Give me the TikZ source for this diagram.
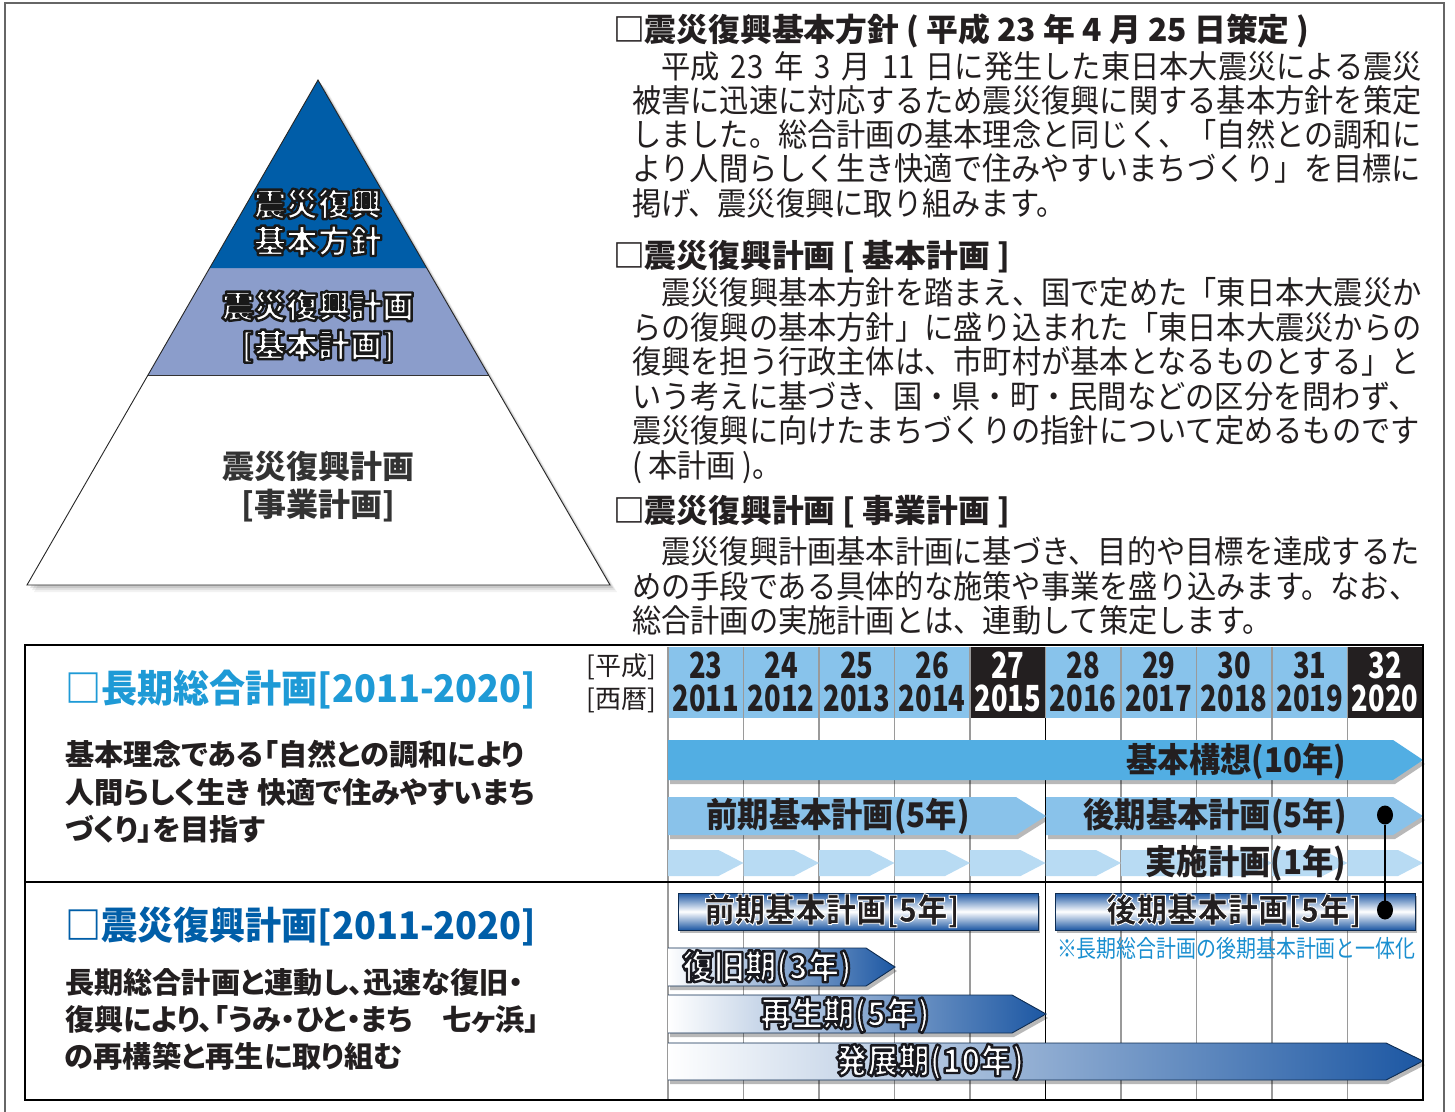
\documentclass[tikz,border=0pt]{standalone}
\usepackage{fontspec}
\usetikzlibrary{shapes.geometric}
\setmainfont{Noto Sans CJK JP}
\newfontfamily\jpr{Noto Sans CJK JP}
\newfontfamily\jpbody[FakeStretch=0.914]{Noto Sans CJK JP}
\newfontfamily\jpbar[FakeStretch=0.92]{Noto Sans CJK JP}
\newfontfamily\jpdig[FakeStretch=0.76]{Noto Sans CJK JP}
\newfontfamily\jppal[RawFeature=+palt]{Noto Sans CJK JP}
\newfontfamily\jptitle[FakeStretch=0.95]{Noto Sans CJK JP}
\newfontfamily\jpnote[FakeStretch=0.83]{Noto Sans CJK JP}
\newcommand\fsz[1]{\fontsize{#1}{#1}\selectfont}
% outlined text: #1 stroke rgb, #2 stroke width, #3 text
\newcommand\outl[3]{\special{pdf:literal direct #1 RG #2 w 1 j 2 Tr}#3\special{pdf:literal direct 0 Tr}}
\definecolor{ink}{HTML}{231F20}
\definecolor{pyrtop}{HTML}{005DA8}
\definecolor{pyrmid}{HTML}{8B9DCB}
\definecolor{hdr}{HTML}{88C3EB}
\definecolor{cellk}{HTML}{231F20}
\definecolor{barmain}{HTML}{52AEE3}
\definecolor{barmid}{HTML}{89C2EA}
\definecolor{barlight}{HTML}{B8DBF3}
\definecolor{titleA}{HTML}{1E9AD6}
\definecolor{titleB}{HTML}{005EA8}
\definecolor{gradblue}{HTML}{1C57A3}
\definecolor{notecol}{HTML}{1A8FD0}
\definecolor{gridc}{HTML}{9A9A9A}
\begin{document}
\begin{tikzpicture}[x=1pt,y=-1pt,
  every node/.style={inner sep=0pt, outer sep=0pt},
  bodytxt/.style={font=\jpbody\fsz{32}, text=ink, anchor=base west},
  headtxt/.style={font=\jpr\bfseries\fsz{31.8}, text=ink, anchor=base west},
  pyrtxt/.style={font=\jpr\bfseries\fsz{32}, anchor=base},
  bartxt/.style={font=\jpbar\bfseries\fsz{34}, text=ink},
  yeartxt/.style={font=\jpdig\bfseries\fsz{36}, anchor=base},
  lefttxt/.style={font=\jppal\bfseries\fsz{29.2}, text=ink, anchor=base west},
  titletxt/.style={font=\jptitle\bfseries\fsz{38}, anchor=base west},
  gridline/.style={draw=gridc, line width=1.2},
  shadowfill/.style={fill=black, opacity=0.28},
  barborder/.style={draw=gradblue!50!black, line width=0.9}]
\useasboundingbox (0,0) rectangle (1455,1111);
\fill[white] (0,0) rectangle (1455,1111);
% outer frame
\draw[black!60, line width=2] (5,1115) -- (5,3) -- (1444,3) -- (1444,1115);

% ---------------- pyramid
\foreach \s/\o in {7/0.05,5/0.07,3/0.1}{%
  \fill[black, opacity=\o, shift={(\s,\s)}] (318,80) -- (610,585) -- (27,585) -- cycle;}
\fill[white] (147.9,375) -- (488.6,375) -- (610,585) -- (27,585) -- cycle;
\fill[pyrmid] (209.7,268) -- (426.7,268) -- (488.6,375) -- (147.9,375) -- cycle;
\fill[pyrtop] (318,80) -- (426.7,268) -- (209.7,268) -- cycle;
\draw[black!80, line width=0.8] (147.9,375) -- (488.6,375);
\draw[black!85, line width=0.9] (318,80) -- (610,585) -- (27,585) -- cycle;
\node[pyrtxt, text=white] (py1) at (318,216) {\outl{0.1 0.1 0.1}{2.4}{震災復興}};
\node[pyrtxt, text=white] (py2) at (318,253) {\outl{0.1 0.1 0.1}{2.4}{基本方針}};
\node[pyrtxt, text=white] (py3) at (318,318) {\outl{0.1 0.1 0.1}{2.4}{震災復興計画}};
\node[pyrtxt, text=white] (py4) at (318,357) {\outl{0.1 0.1 0.1}{2.4}{[基本計画]}};
\node[pyrtxt, text=black!80] (py5) at (318,478) {震災復興計画};
\node[pyrtxt, text=black!80] (py6) at (318,516) {[事業計画]};

% ---------------- right column text
\node[headtxt] (h1) at (613,41) {□震災復興基本方針 ( 平成 23 年 4 月 25 日策定 )};
\node[bodytxt] (p1a) at (632,78) {\makebox[790pt][s]{　平成 23 年 3 月 11 日に発生した東日本大震災による震災}};
\node[bodytxt] (p1b) at (632,112) {被害に迅速に対応するため震災復興に関する基本方針を策定};
\node[bodytxt] (p1c) at (632,146) {しました。総合計画の基本理念と同じく、「自然との調和に};
\node[bodytxt] (p1d) at (632,180) {より人間らしく生き快適で住みやすいまちづくり」を目標に};
\node[bodytxt] (p1e) at (632,215) {掲げ、震災復興に取り組みます。};

\node[headtxt] (h2) at (613,267) {□震災復興計画 [ 基本計画 ]};
\node[bodytxt] (p2a) at (632,304) {　震災復興基本方針を踏まえ、国で定めた「東日本大震災か};
\node[bodytxt] (p2b) at (632,339) {らの復興の基本方針」に盛り込まれた「東日本大震災からの};
\node[bodytxt] (p2c) at (632,373) {復興を担う行政主体は、市町村が基本となるものとする」と};
\node[bodytxt] (p2d) at (632,408) {いう考えに基づき、国・県・町・民間などの区分を問わず、};
\node[bodytxt] (p2e) at (632,442) {震災復興に向けたまちづくりの指針について定めるものです};
\node[bodytxt] (p2f) at (632,477) {( 本計画 )。};

\node[headtxt] (h3) at (613,522) {□震災復興計画 [ 事業計画 ]};
\node[bodytxt] (p3a) at (632,563) {　震災復興計画基本計画に基づき、目的や目標を達成するた};
\node[bodytxt] (p3b) at (632,598) {めの手段である具体的な施策や事業を盛り込みます。なお、};
\node[bodytxt] (p3c) at (632,632) {総合計画の実施計画とは、連動して策定します。};

% ---------------- timeline header
\foreach \i/\a/\b/\cf/\ct in {0/23/2011/hdr/ink,1/24/2012/hdr/ink,2/25/2013/hdr/ink,3/26/2014/hdr/ink,4/27/2015/cellk/white,5/28/2016/hdr/ink,6/29/2017/hdr/ink,7/30/2018/hdr/ink,8/31/2019/hdr/ink,9/32/2020/cellk/white}{%
  \fill[\cf] ({668+75.5*\i},647) rectangle ({668+75.5*(\i+1)},718);
  \node[yeartxt, text=\ct] (ya\i) at ({668+75.5*\i+37.75},678) {\a};
  \node[yeartxt, text=\ct] (yb\i) at ({668+75.5*\i+37.75},711) {\b};}
\foreach \i in {0,...,9}{\draw[gridline] ({668+75.5*\i},647) -- ({668+75.5*\i},1100);}
\draw[black, line width=1.3] (1045.5,718) -- (1045.5,1100);

\node[font=\jpr\fsz{26}, text=ink, anchor=base east] (hs) at (656,675) {[平成]};
\node[font=\jpr\fsz{26}, text=ink, anchor=base east] (ss) at (656,708) {[西暦]};

% ---------------- upper bars
\fill[shadowfill, shift={(2,4)}] (668,740) -- (1393,740) -- (1423,760) -- (1393,780) -- (668,780) -- cycle;
\fill[barmain] (668,740) -- (1393,740) -- (1423,760) -- (1393,780) -- (668,780) -- cycle;
\fill[shadowfill, shift={(2,4)}] (668,797) -- (1016,797) -- (1046,816) -- (1016,835) -- (668,835) -- cycle;
\fill[barmid] (668,797) -- (1016,797) -- (1046,816) -- (1016,835) -- (668,835) -- cycle;
\fill[shadowfill, shift={(2,4)}] (1046,797) -- (1393,797) -- (1423,816) -- (1393,835) -- (1046,835) -- cycle;
\fill[barmid] (1046,797) -- (1393,797) -- (1423,816) -- (1393,835) -- (1046,835) -- cycle;
\foreach \i in {0,...,9}{%
  \fill[barlight] ({668+75.5*\i},850) -- ({668+75.5*(\i+1)-25},850) -- ({668+75.5*(\i+1)},863) -- ({668+75.5*(\i+1)-25},876) -- ({668+75.5*\i},876) -- cycle;}
\node[bartxt, anchor=base east] (kk) at (1346,772) {基本構想(10年)};
\node[bartxt, anchor=base] (zk) at (838,827) {前期基本計画(5年)};
\node[bartxt, anchor=base] (kkk) at (1215,827) {後期基本計画(5年)};
\node[bartxt, anchor=base east] (js) at (1346,874) {実施計画(1年)};

% ---------------- lower bars
\fill[shadowfill, shift={(2,3)}] (678,893) rectangle (1038,930);
\shade[top color=gradblue, bottom color=gradblue, middle color=white] (678,893) rectangle (1038,930);
\draw[barborder] (678,893) rectangle (1038,930);
\fill[shadowfill, shift={(2,3)}] (1055,893) rectangle (1415,930);
\shade[top color=gradblue, bottom color=gradblue, middle color=white] (1055,893) rectangle (1415,930);
\draw[barborder] (1055,893) rectangle (1415,930);
\node[bartxt, anchor=base, font=\jpbar\bfseries\fsz{33}] (zb) at (832,922) {\outl{1 1 1}{0.9}{前期基本計画[5年]}};
\node[bartxt, anchor=base, font=\jpbar\bfseries\fsz{33}] (kb) at (1234,922) {\outl{1 1 1}{0.9}{後期基本計画[5年]}};
\node[font=\jpnote\fsz{24}, text=notecol, anchor=base west] (note) at (1057,957) {※長期総合計画の後期基本計画と一体化};

\fill[shadowfill, shift={(2,4)}] (668,948) -- (866,948) -- (895,967) -- (866,986) -- (668,986) -- cycle;
\shade[left color=white, right color=gradblue] (668,948) -- (866,948) -- (895,967) -- (866,986) -- (668,986) -- cycle;
\draw[barborder] (668,948) -- (866,948) -- (895,967) -- (866,986) -- (668,986);
\fill[shadowfill, shift={(2,4)}] (668,995) -- (1012,995) -- (1046,1014) -- (1012,1033) -- (668,1033) -- cycle;
\shade[left color=white, right color=gradblue] (668,995) -- (1012,995) -- (1046,1014) -- (1012,1033) -- (668,1033) -- cycle;
\draw[barborder] (668,995) -- (1012,995) -- (1046,1014) -- (1012,1033) -- (668,1033);
\fill[shadowfill, shift={(2,4)}] (668,1043) -- (1386,1043) -- (1423,1061) -- (1386,1080) -- (668,1080) -- cycle;
\shade[left color=white, right color=gradblue] (668,1043) -- (1386,1043) -- (1423,1061) -- (1386,1080) -- (668,1080) -- cycle;
\draw[barborder] (668,1043) -- (1386,1043) -- (1423,1061) -- (1386,1080) -- (668,1080);
\node[bartxt, anchor=base, text=white] (fk) at (767,979) {\outl{0.1 0.1 0.12}{2.4}{復旧期(3年)}};
\node[bartxt, anchor=base, text=white] (sk) at (845,1026) {\outl{0.1 0.1 0.12}{2.4}{再生期(5年)}};
\node[bartxt, anchor=base, text=white] (hk) at (930,1073) {\outl{0.1 0.1 0.12}{2.4}{発展期(10年)}};

% dots
\node[ellipse, fill=black, minimum width=16, minimum height=19] (d1) at (1385,815) {};
\node[ellipse, fill=black, minimum width=16, minimum height=19] (d2) at (1385,910) {};
\draw[black, line width=1.4] (d1) -- (d2);

% ---------------- timeline box and left column
\draw[black, line width=1.3] (25,645) rectangle (1423,1100);
\draw[black, line width=1.3] (25,882) -- (1423,882);
\node[titletxt, text=titleA] (t1) at (65,702) {□長期総合計画[2011-2020]};
\node[lefttxt] (l1a) at (65,765) {基本理念である「自然との調和により};
\node[lefttxt] (l1b) at (65,803) {人間らしく生き 快適で住みやすいまち};
\node[lefttxt] (l1c) at (65,840) {づくり」を目指す};
\node[titletxt, text=titleB] (t2) at (65,939) {□震災復興計画[2011-2020]};
\node[lefttxt] (l2a) at (65,993) {長期総合計画と連動し、迅速な復旧・};
\node[lefttxt] (l2b) at (65,1030) {復興により、「うみ・ひと・まち　七ヶ浜」};
\node[lefttxt] (l2c) at (65,1067) {の再構築と再生に取り組む};
\end{tikzpicture}
\end{document}
